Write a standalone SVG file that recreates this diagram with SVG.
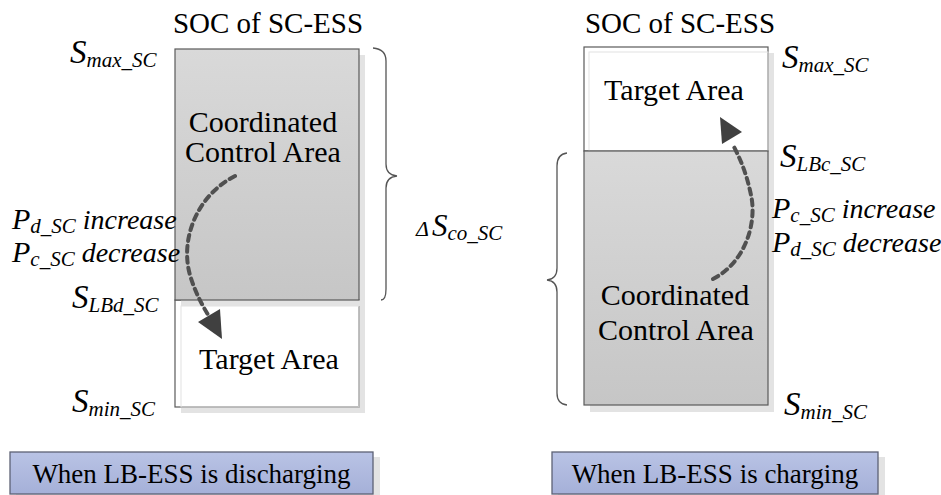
<svg xmlns="http://www.w3.org/2000/svg" width="941" height="495" viewBox="0 0 941 495">
<defs>
<linearGradient id="gGray" x1="0" y1="0" x2="0" y2="1">
<stop offset="0" stop-color="#d9d9d9"/><stop offset="1" stop-color="#c6c6c6"/>
</linearGradient>
<linearGradient id="gBlue" x1="0" y1="0" x2="0" y2="1">
<stop offset="0" stop-color="#b9c3e5"/><stop offset="1" stop-color="#a5b0d8"/>
</linearGradient>
<style>
.t{font-family:"Liberation Serif","Times New Roman",serif;fill:#000}
.r{font-size:30px}
.it{font-style:italic;white-space:pre}
.shadow{fill:#e3e3e3}
.edge{stroke:#5a5a5a;stroke-width:1.2}
.brace{fill:none;stroke:#555;stroke-width:1.3}
.dash{fill:none;stroke:#505050;stroke-width:4;stroke-dasharray:6 5;stroke-linecap:round}
.head{fill:#404040}
</style>
</defs>
<rect width="941" height="495" fill="#fff"/>

<g id="left-soc">
<text class="t" x="268" y="33" font-size="29" text-anchor="middle">SOC of SC-ESS</text>
<rect class="shadow" x="181" y="55" width="184" height="358"/>
<rect x="175" y="300" width="184" height="107" fill="#fff" class="edge"/>
<rect x="181" y="306" width="178" height="101" fill="none" stroke="#e2e2e2" stroke-width="1"/>
<rect class="shadow" x="181" y="300" width="184" height="6"/>
<rect x="175" y="49" width="184" height="251" fill="url(#gGray)" class="edge"/>
<text class="t r" x="263" y="132" text-anchor="middle">Coordinated</text>
<text class="t r" x="263" y="162" text-anchor="middle">Control Area</text>
<text class="t r" x="269" y="369" text-anchor="middle">Target Area</text>
</g>

<g id="left-labels">
<text class="t it" x="70" y="63"><tspan font-size="33">S</tspan><tspan font-size="21" dy="4">max_SC</tspan></text>
<text class="t it" x="12" y="229"><tspan font-size="30">P</tspan><tspan font-size="21" dy="4">d_SC</tspan><tspan font-size="28" dy="-4"> increase</tspan></text>
<text class="t it" x="12" y="262"><tspan font-size="30">P</tspan><tspan font-size="21" dy="4">c_SC</tspan><tspan font-size="28" dy="-4"> decrease</tspan></text>
<text class="t it" x="72" y="308"><tspan font-size="33">S</tspan><tspan font-size="21" dy="4">LBd_SC</tspan></text>
<text class="t it" x="72" y="412"><tspan font-size="33">S</tspan><tspan font-size="21" dy="4">min_SC</tspan></text>
</g>

<g id="delta-label">
<text class="t it" x="416" y="236"><tspan font-size="22">Δ</tspan><tspan font-size="31" x="432">S</tspan><tspan font-size="21" dy="4">co_SC</tspan></text>
</g>

<g id="right-soc">
<text class="t" x="680" y="33" font-size="29" text-anchor="middle">SOC of SC-ESS</text>
<rect class="shadow" x="590" y="53" width="184" height="359"/>
<rect x="584" y="47" width="184" height="104" fill="#fff" class="edge"/>
<rect x="589" y="52" width="179" height="99" fill="none" stroke="#e2e2e2" stroke-width="1"/>
<rect x="584" y="151" width="184" height="254" fill="url(#gGray)" class="edge"/>
<text class="t r" x="674" y="100" text-anchor="middle">Target Area</text>
<text class="t r" x="675" y="305" text-anchor="middle">Coordinated</text>
<text class="t r" x="676" y="340" text-anchor="middle">Control Area</text>
</g>

<g id="right-labels">
<text class="t it" x="782" y="68"><tspan font-size="33">S</tspan><tspan font-size="21" dy="4">max_SC</tspan></text>
<text class="t it" x="780" y="167"><tspan font-size="33">S</tspan><tspan font-size="21" dy="4">LBc_SC</tspan></text>
<text class="t it" x="772" y="218"><tspan font-size="30">P</tspan><tspan font-size="21" dy="4">c_SC</tspan><tspan font-size="28" dy="-4"> increase</tspan></text>
<text class="t it" x="772" y="252"><tspan font-size="30">P</tspan><tspan font-size="21" dy="4">d_SC</tspan><tspan font-size="28" dy="-4"> decrease</tspan></text>
<text class="t it" x="784" y="415"><tspan font-size="33">S</tspan><tspan font-size="21" dy="4">min_SC</tspan></text>
</g>

<g id="caption-left">
<rect class="shadow" x="16" y="457" width="364" height="38"/>
<rect x="10" y="452" width="363" height="42" fill="url(#gBlue)" stroke="#5d6275" stroke-width="1.3"/>
<text class="t" x="191.5" y="483" font-size="27" text-anchor="middle">When LB-ESS is discharging</text>
</g>

<g id="caption-right">
<rect class="shadow" x="558" y="457" width="327" height="38"/>
<rect x="552" y="452" width="326" height="42" fill="url(#gBlue)" stroke="#5d6275" stroke-width="1.3"/>
<text class="t" x="715" y="483" font-size="27" text-anchor="middle">When LB-ESS is charging</text>
</g>

<g id="connectors">
<path class="brace" d="M373,48 Q386,49 386,61 L386,164 Q386,175 397,176 Q386,177 386,188 L386,289 Q386,300 381,300"/>
<path class="brace" d="M567,153 Q557,154 557,166 L557,268 Q557,279 547,280 Q557,281 557,292 L557,393 Q557,404 567,405"/>
<path class="dash" d="M235,176 C196,196 180,240 190,275 C195,292 202,305 210,318"/>
<polygon class="head" points="222,339 198,322 220,309"/>
<path class="dash" d="M713,279 C746,262 757,222 751,195 C747,176 742,162 733,145"/>
<polygon class="head" points="720,117 722,144 742,132"/>
</g>
</svg>
